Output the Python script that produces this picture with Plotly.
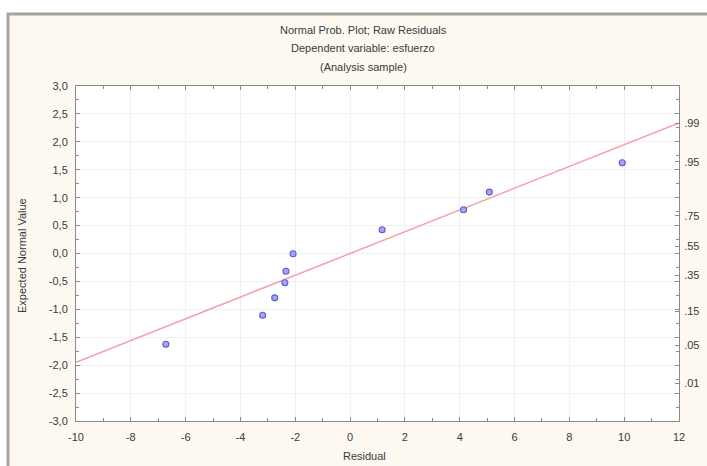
import plotly.graph_objects as go

# Raw residuals and their expected normal values
residuals = [-6.72, -3.19, -2.75, -2.38, -2.34, -2.08, 1.17, 4.14, 5.08, 9.93]
expected_normal = [-1.625, -1.106, -0.794, -0.525, -0.317, -0.005, 0.425, 0.783, 1.10, 1.625]

# Reference normal line
line_x = [-10, 12]
line_y = [-1.95, 2.34]

# Axis ticks
x_ticks = [-10, -8, -6, -4, -2, 0, 2, 4, 6, 8, 10, 12]
x_tick_text = ["-10", "-8", "-6", "-4", "-2", "0", "2", "4", "6", "8", "10", "12"]
y_ticks = [3.0, 2.5, 2.0, 1.5, 1.0, 0.5, 0.0, -0.5, -1.0, -1.5, -2.0, -2.5, -3.0]
y_tick_text = ["3,0", "2,5", "2,0", "1,5", "1,0", "0,5", "0,0", "-0,5", "-1,0", "-1,5", "-2,0", "-2,5", "-3,0"]
prob_ticks = [2.326, 1.645, 0.674, 0.126, -0.385, -1.036, -1.645, -2.326]
prob_text = [".99", ".95", ".75", ".55", ".35", ".15", ".05", ".01"]

title_lines = ["Normal Prob. Plot; Raw Residuals", "Dependent variable: esfuerzo", "(Analysis sample)"]

W, H = 707, 466
L, R, T, B = 76, 28, 86, 45
pw, ph = W - L - R, H - T - B


def px(xp):
    return (xp - L) / pw


def py(yp):
    return (H - B - yp) / ph


FONT = "Liberation Sans, Arial, sans-serif"
TXT = "#3a3a3a"
AX = "#8a8a8a"

fig = go.Figure()
fig.add_trace(go.Scatter(
    x=line_x, y=line_y, mode="lines",
    line=dict(color="#f3a0a8", width=1.5),
    hoverinfo="skip", showlegend=False,
))
fig.add_trace(go.Scatter(
    x=residuals, y=expected_normal, mode="markers",
    marker=dict(size=6, color="#a4a6f2", line=dict(color="#5c5ed0", width=1.1)),
    showlegend=False,
))
# invisible trace to activate the probability axis on the right
fig.add_trace(go.Scatter(x=[None], y=[None], yaxis="y2", showlegend=False, hoverinfo="skip"))

axis_common = dict(
    showline=True, linecolor=AX, linewidth=1,
    ticks="inside", ticklen=4, tickcolor=AX,
    showgrid=True, gridcolor="#f0f0f0", gridwidth=1,
    zeroline=False, automargin=False,
    tickfont=dict(family=FONT, size=11, color=TXT),
)

fig.update_layout(
    width=W, height=H,
    margin=dict(l=L, r=R, t=T, b=B),
    paper_bgcolor="white",
    plot_bgcolor="white",
    xaxis=dict(
        range=[-10, 12], tickvals=x_ticks, ticktext=x_tick_text,
        mirror="ticks", ticklabelstandoff=6,
        minor=dict(dtick=1, ticks="inside", ticklen=3, tickcolor=AX, showgrid=False),
        **axis_common,
    ),
    yaxis=dict(
        range=[-3, 3], tickvals=y_ticks, ticktext=y_tick_text,
        mirror="ticks", ticklabelstandoff=5,
        minor=dict(dtick=0.25, ticks="inside", ticklen=3, tickcolor=AX, showgrid=False),
        **axis_common,
    ),
    yaxis2=dict(
        overlaying="y", side="right", range=[-3, 3],
        tickvals=prob_ticks, ticktext=prob_text,
        showline=True, linecolor=AX, linewidth=1,
        ticks="inside", ticklen=4, tickcolor=AX,
        showgrid=False, zeroline=False, ticklabelstandoff=2, automargin=False,
        tickfont=dict(family=FONT, size=11, color=TXT),
    ),
    shapes=[
        # outer window frame
        dict(type="rect", xref="paper", yref="paper",
             x0=px(8), x1=px(W + 10), y0=py(H + 10), y1=py(14),
             fillcolor="#fdf9f1", line=dict(color="#a8a39b", width=3), layer="below"),
        dict(type="rect", xref="paper", yref="paper",
             x0=0, x1=1, y0=0, y1=1,
             fillcolor="white", line=dict(width=0), layer="below"),
    ],
    showlegend=False,
)

ann = []
for text, yp in zip(title_lines, [30, 48, 67]):
    ann.append(dict(text=text, x=px(363), y=py(yp), xref="paper", yref="paper",
                    xanchor="center", yanchor="middle", showarrow=False,
                    font=dict(family=FONT, size=11, color=TXT)))
ann.append(dict(text="Expected Normal Value", x=px(22), y=py(256), xref="paper", yref="paper",
                xanchor="center", yanchor="middle", textangle=-90, showarrow=False,
                font=dict(family=FONT, size=11, color=TXT)))
ann.append(dict(text="Residual", x=px(364), y=py(456), xref="paper", yref="paper",
                xanchor="center", yanchor="middle", showarrow=False,
                font=dict(family=FONT, size=11, color=TXT)))
fig.update_layout(annotations=ann)

fig.write_html("out.html")
